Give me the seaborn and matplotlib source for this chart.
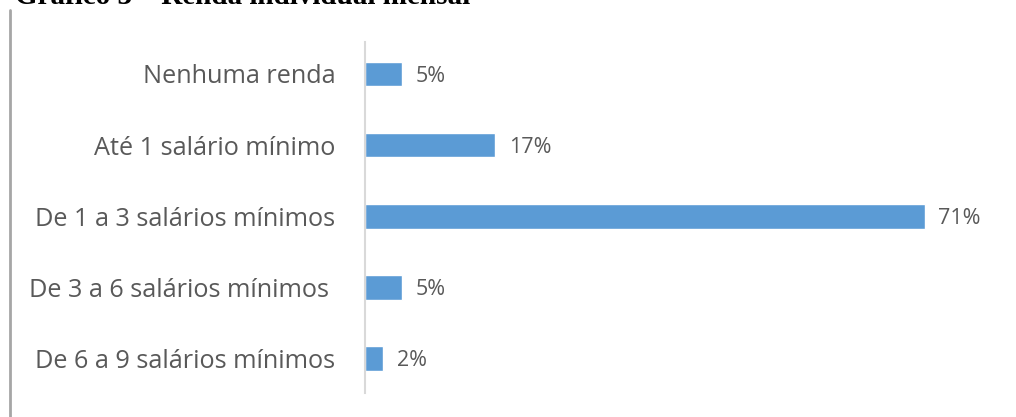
import matplotlib
matplotlib.use("Agg")
import matplotlib.pyplot as plt
import seaborn as sns
import pandas as pd
from matplotlib.lines import Line2D

categories = ["Nenhuma renda", "Até 1 salário mínimo", "De 1 a 3 salários mínimos",
              "De 3 a 6 salários mínimos ", "De 6 a 9 salários mínimos"]
values = [4.76, 16.67, 71.43, 4.76, 2.38]
value_labels = ["5%", "17%", "71%", "5%", "2%"]
title = "Gráfico 3 – Renda individual mensal"

sns.set_theme(style="white")
plt.rcParams['font.family'] = ['Open Sans', 'DejaVu Sans']

df = pd.DataFrame({"cat": categories, "val": values})

fig = plt.figure(figsize=(10.16, 4.17), dpi=100)
ax = fig.add_axes([364.5/1016, 24/417, 588/1016, 351/417])
sns.barplot(data=df, y="cat", x="val", orient="h", color="#5B9BD5",
            saturation=1, width=0.35, ax=ax)
ax.set_xlim(0, 75)
ax.set_ylim(4.49, -0.45)
ax.set_xlabel("")
ax.set_ylabel("")
ax.set_xticks([])
for s in ["top", "right", "bottom"]:
    ax.spines[s].set_visible(False)
ax.spines["left"].set_color("#D9D9D9")
ax.spines["left"].set_linewidth(1.5)
ax.tick_params(axis="y", length=0, pad=21, labelsize=18.2, labelcolor="#595959")
bl = ax.bar_label(ax.containers[0], labels=value_labels, padding=10,
                  fontsize=15.5, color="#595959")
for t in bl:
    t.set_va("center_baseline")

# left page border line
fig.add_artist(Line2D([10/1016, 10/1016], [0, 1 - 10/417], color="#A6A6A6",
                      linewidth=2, transform=fig.transFigure))
# cropped title at top (only its lower edge is visible in the reference)
fig.text(15/1016, 1 - 3.5/417, title, fontsize=21, fontweight="bold",
         family=["Liberation Serif", "DejaVu Serif"], va="baseline", ha="left",
         color="black")

fig.savefig("out.png", dpi=100)
